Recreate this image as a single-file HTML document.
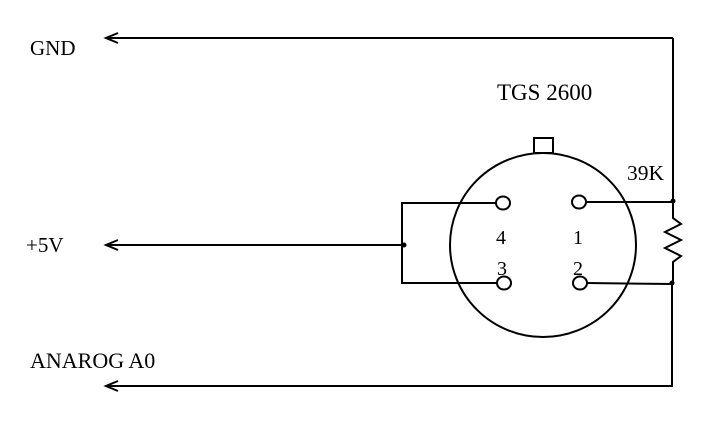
<!DOCTYPE html>
<html><head><meta charset="utf-8"><style>
html,body{margin:0;padding:0;background:#fff;}
svg{display:block;}
text{font-family:"Liberation Serif",serif;fill:#000;}
</style></head><body>
<svg width="711" height="425" viewBox="0 0 711 425" xmlns="http://www.w3.org/2000/svg">
<g stroke="#000" stroke-width="2" fill="none">
<polyline points="673,38 673,202"/>
<line x1="106" y1="38" x2="673" y2="38"/>
<polyline points="118,33 106,38 118,43"/>
<line x1="106" y1="245" x2="402" y2="245"/>
<polyline points="118,240 106,245 118,250"/>
<polyline points="496,203 402,203 402,283 497,283"/>
<polyline points="587,283 672,284 672,386 106,386"/>
<polyline points="118,381 106,386 118,391"/>
<line x1="587" y1="202" x2="673" y2="202"/>
<polyline points="673,202 673,218 681,224 665,232 681,240 665,248 681,256 673,262 673,284"/>
<ellipse cx="543" cy="245" rx="93" ry="92"/>
<rect x="534" y="138" width="19" height="15" fill="#fff"/>
<ellipse cx="503" cy="203" rx="7" ry="6.5" fill="#fff"/>
<ellipse cx="579" cy="202" rx="7" ry="6.5" fill="#fff"/>
<ellipse cx="504" cy="283" rx="7" ry="6.5" fill="#fff"/>
<ellipse cx="580" cy="283" rx="7" ry="6.5" fill="#fff"/>
</g>
<g fill="#000">
<circle cx="404" cy="245" r="2.5"/>
<circle cx="673" cy="201" r="2.5"/>
<circle cx="672" cy="283" r="2.5"/>
</g>
<text x="30" y="55" font-size="21">GND</text>
<text x="26" y="252" font-size="21">+5V</text>
<text x="30" y="368" font-size="22">ANAROG A0</text>
<text x="497" y="100" font-size="23">TGS 2600</text>
<text x="627" y="180" font-size="21.5">39K</text>
<text x="496" y="244" font-size="20">4</text>
<text x="573" y="244" font-size="20">1</text>
<text x="497" y="275" font-size="20">3</text>
<text x="573" y="275" font-size="20">2</text>
</svg>
</body></html>
